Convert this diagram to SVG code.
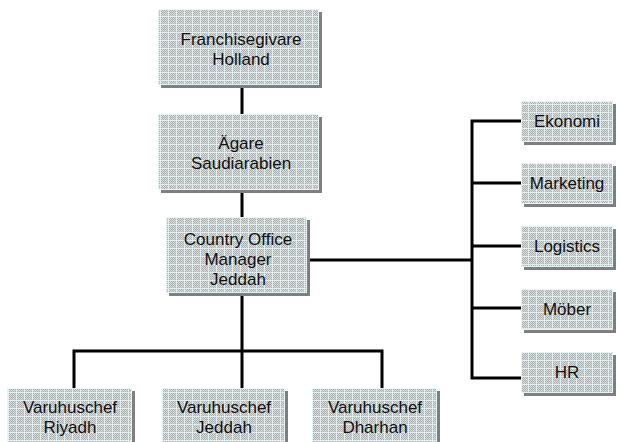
<svg xmlns="http://www.w3.org/2000/svg" width="621" height="442" viewBox="0 0 621 442">
<defs>
<pattern id="chk" width="2" height="2" patternUnits="userSpaceOnUse">
<rect width="2" height="2" fill="#d6dcdc"/>
<rect width="1" height="1" fill="#adb1b1"/>
<rect x="1" y="1" width="1" height="1" fill="#adb1b1"/>
</pattern>
<pattern id="tex" width="8" height="8" patternUnits="userSpaceOnUse">
<rect width="8" height="8" fill="url(#chk)"/>
<rect width="8" height="1" fill="#e2eeee"/>
<rect width="1" height="8" fill="#e2eeee"/>
</pattern>
<style>
.sh{fill:#7f7f7f}
.bx{fill:url(#tex);stroke:#e4f4f4;stroke-width:1}
.t{font-family:"Liberation Sans",Arial,sans-serif;font-size:17px;fill:#111;text-anchor:middle}
.c{fill:none;stroke:#000;stroke-width:3}
</style>
</defs>
<rect width="621" height="442" fill="#fff"/>
<g id="connectors">
<path class="c" d="M242 88V114M242 193V217M242 296V351M74 351H382M74 349.5V388M242 351V388M382 349.5V388"/>
<path class="c" d="M310 260H472M472 119.5V379.5M470.5 121H521M472 183H521M472 246H521M472 308H521M470.5 378H521"/>
</g>
<g id="franchisegivare">
<rect class="sh" x="161" y="12" width="161" height="76"/>
<rect class="bx" x="158.5" y="9.5" width="160" height="75"/>
<text class="t" x="241" y="45">Franchisegivare</text>
<text class="t" x="241" y="65">Holland</text>
</g>
<g id="agare">
<rect class="sh" x="161" y="117" width="161" height="76"/>
<rect class="bx" x="158.5" y="114.5" width="160" height="75"/>
<text class="t" x="241" y="149">Ägare</text>
<text class="t" x="241" y="169">Saudiarabien</text>
</g>
<g id="country-office">
<rect class="sh" x="169" y="220" width="141" height="76"/>
<rect class="bx" x="166.5" y="217.5" width="140" height="75"/>
<text class="t" x="238" y="245">Country Office</text>
<text class="t" x="238" y="265">Manager</text>
<text class="t" x="238" y="285">Jeddah</text>
</g>
<g id="ekonomi">
<rect class="sh" x="524" y="104" width="92" height="41"/>
<rect class="bx" x="521.5" y="101.5" width="91" height="40"/>
<text class="t" x="567" y="127">Ekonomi</text>
</g>
<g id="marketing">
<rect class="sh" x="524" y="166" width="92" height="41"/>
<rect class="bx" x="521.5" y="163.5" width="91" height="40"/>
<text class="t" x="567" y="189">Marketing</text>
</g>
<g id="logistics">
<rect class="sh" x="524" y="229" width="92" height="41"/>
<rect class="bx" x="521.5" y="226.5" width="91" height="40"/>
<text class="t" x="567" y="252">Logistics</text>
</g>
<g id="mober">
<rect class="sh" x="524" y="292" width="92" height="41"/>
<rect class="bx" x="521.5" y="289.5" width="91" height="40"/>
<text class="t" x="567" y="315">Möber</text>
</g>
<g id="hr">
<rect class="sh" x="524" y="355" width="92" height="41"/>
<rect class="bx" x="521.5" y="352.5" width="91" height="40"/>
<text class="t" x="567" y="378">HR</text>
</g>
<g id="riyadh">
<rect class="sh" x="10" y="391" width="125" height="60"/>
<rect class="bx" x="7.5" y="388.5" width="124" height="60"/>
<text class="t" x="70" y="413">Varuhuschef</text>
<text class="t" x="70" y="433">Riyadh</text>
</g>
<g id="jeddah">
<rect class="sh" x="165" y="391" width="123" height="60"/>
<rect class="bx" x="162.5" y="388.5" width="122" height="60"/>
<text class="t" x="224" y="413">Varuhuschef</text>
<text class="t" x="224" y="433">Jeddah</text>
</g>
<g id="dharhan">
<rect class="sh" x="315" y="391" width="125" height="60"/>
<rect class="bx" x="312.5" y="388.5" width="124" height="60"/>
<text class="t" x="375" y="413">Varuhuschef</text>
<text class="t" x="375" y="433">Dharhan</text>
</g>
</svg>
